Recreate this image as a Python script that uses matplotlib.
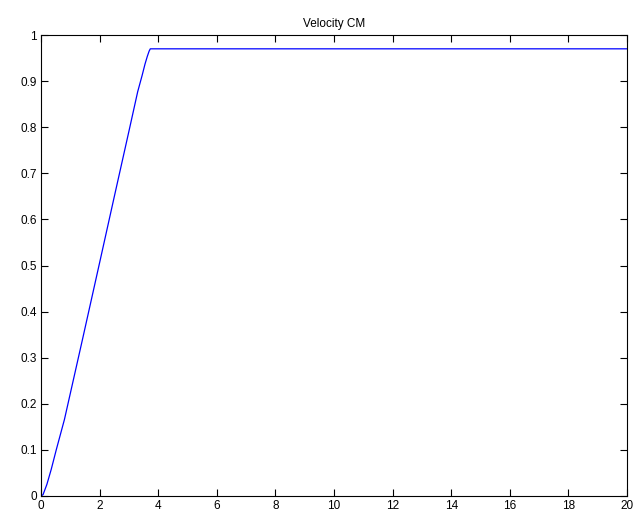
import matplotlib
matplotlib.use("Agg")
import matplotlib.pyplot as plt

t = [0.0, 0.07, 0.2, 0.35, 0.52, 0.8, 1.41, 2.0, 2.5, 3.0, 3.3, 3.45, 3.55, 3.63, 3.69, 3.73, 20.0]
v = [0.0, 0.003, 0.025, 0.058, 0.1, 0.166, 0.338, 0.506, 0.649, 0.791, 0.877, 0.912, 0.937, 0.954, 0.965, 0.97, 0.97]

xticks = list(range(0, 21, 2))
yticks = [0, 0.1, 0.2, 0.3, 0.4, 0.5, 0.6, 0.7, 0.8, 0.9, 1]
yticklabels = ["0", "0.1", "0.2", "0.3", "0.4", "0.5", "0.6", "0.7", "0.8", "0.9", "1"]

plt.rcParams['font.family'] = ['Liberation Sans', 'DejaVu Sans']
fig = plt.figure(figsize=(6.37, 5.27), dpi=100)
ax = fig.add_axes([41/637, 31/527, 586/637, 461/527])
ax.plot(t, v, color='#0000ff', linewidth=0.9)
ax.set_xlim(0, 20)
ax.set_ylim(0, 1)
ax.set_xticks(xticks)
ax.set_yticks(yticks)
ax.set_yticklabels(yticklabels)
ax.tick_params(direction='in', top=True, right=True, labelsize=8.5, length=5, width=0.8, pad=3)
for s in ax.spines.values():
    s.set_linewidth(0.8)
ax.set_title("Velocity CM", fontsize=8.5, pad=6)
fig.savefig("out.png", dpi=100)
